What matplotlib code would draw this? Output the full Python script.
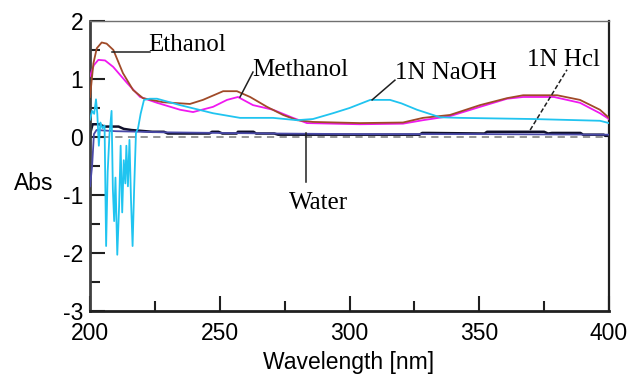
import matplotlib
matplotlib.use("Agg")
import matplotlib.pyplot as plt

plt.rcParams["axes.unicode_minus"] = False

# UV-Vis absorbance spectra in different solvents
ethanol_nm = [200, 201.3, 202.6, 204.5, 206.4, 209, 212.7, 216.6, 220.4, 228.1, 238.5, 243.5,
              251.3, 256.6, 261.7, 268.2, 274.4, 279.8, 285.9, 304, 320.6, 328.3, 338.7, 350.3,
              360.7, 366.9, 380, 388.8, 396.5, 400]
ethanol_abs = [0.69, 1.27, 1.53, 1.63, 1.61, 1.50, 1.10, 0.81, 0.67, 0.60, 0.57, 0.64,
               0.79, 0.79, 0.69, 0.52, 0.38, 0.29, 0.26, 0.24, 0.25, 0.33, 0.38, 0.55,
               0.67, 0.72, 0.72, 0.64, 0.47, 0.33]

methanol_nm = [200, 201.5, 203.2, 205.8, 208.9, 214.3, 219.3, 225.8, 234.7, 239.7, 247.4, 252.8,
               257, 262.8, 270.5, 278.2, 283.6, 304, 320.6, 328.3, 338.7, 350.3, 360.7, 366.9,
               378.8, 388.8, 396.5, 400]
methanol_abs = [1.05, 1.24, 1.33, 1.32, 1.21, 0.93, 0.69, 0.59, 0.47, 0.43, 0.52, 0.64,
                0.69, 0.55, 0.47, 0.33, 0.24, 0.22, 0.23, 0.29, 0.36, 0.52, 0.66, 0.69,
                0.69, 0.59, 0.41, 0.31]

naoh_nm = [200.0, 200.8, 201.6, 202.3, 202.8, 203.4, 204.0, 204.8, 205.6, 206.2, 206.8, 207.5,
           208.3, 208.8, 209.3, 209.8, 210.5, 211.2, 211.8, 212.4, 213.0, 213.6, 214.0, 214.6,
           215.2, 215.8, 216.4, 217.0, 217.7, 218.5, 219.5, 220.8, 223, 225.8, 234.7, 247.4,
           257.8, 270.5, 279.8, 285.9, 293.6, 300, 304, 308, 315.6, 320, 326, 334.9, 342.6,
           370.7, 396.5, 400]
naoh_abs = [0.30, 0.45, 0.40, 0.65, 0.40, -0.15, 0.25, 0.15, 0.20, -1.88, -0.60, 0.05,
            0.45, -0.90, -1.45, -0.70, -2.03, -1.20, -0.15, -1.30, -0.40, -0.80, -0.15, -0.85,
            -0.05, -1.10, -1.88, -0.90, 0.07, 0.15, 0.40, 0.64, 0.66, 0.66, 0.55, 0.41,
            0.33, 0.33, 0.29, 0.31, 0.41, 0.50, 0.57, 0.64, 0.64, 0.58, 0.47, 0.34, 0.33,
            0.31, 0.28, 0.24]

hcl_nm = [200, 201, 203.5, 205.5, 211, 213, 216, 224, 228.5, 230, 246, 247, 249.5, 251, 256.5,
          257, 263, 264, 271, 272.5, 327, 328, 330.5, 352, 353, 375, 376.5, 378, 389, 390,
          398, 398.5, 400]
hcl_abs = [0.05, 0.22, 0.22, 0.18, 0.18, 0.14, 0.12, 0.09, 0.09, 0.06, 0.06, 0.09, 0.09, 0.06, 0.06,
           0.09, 0.09, 0.06, 0.06, 0.04, 0.04, 0.07, 0.07, 0.06, 0.09, 0.09, 0.06, 0.07, 0.07, 0.04,
           0.04, 0.02, 0.02]

water_nm = [200, 200.8, 201.5, 202.5, 210, 230, 250, 272, 300, 350, 400]
water_abs = [-0.85, -0.5, 0.05, 0.12, 0.10, 0.08, 0.07, 0.06, 0.05, 0.05, 0.04]

serif = "Liberation Serif"
sans = "Liberation Sans"
lab_size = 18
tick_size = 16.5

fig = plt.figure(figsize=(6.3, 3.76), dpi=100)
ax = fig.add_axes([0.1429, 0.1729, 0.8238, 0.7712])

ax.axhline(0, color="#8c8c8c", lw=1.3, ls=(0, (4, 3)), zorder=1)
ax.plot(hcl_nm, hcl_abs, color="#10102a", lw=1.8, zorder=2)
ax.plot(water_nm, water_abs, color="#4a4aa8", lw=1.3, zorder=3)
ax.plot(methanol_nm, methanol_abs, color="#f018f0", lw=1.3, zorder=4)
ax.plot(ethanol_nm, ethanol_abs, color="#a04a28", lw=1.3, zorder=5)
ax.plot(naoh_nm, naoh_abs, color="#20c4f0", lw=1.3, zorder=6)

# leader lines and curve labels
ax.plot([208.5, 223], [1.47, 1.47], color="#202020", lw=1.1, zorder=7)
ax.text(222.5, 1.59, "Ethanol", family=serif, fontsize=lab_size, ha="left", va="center")

ax.plot([257.8, 262.8], [0.69, 1.12], color="#202020", lw=1.1, zorder=7)
ax.text(262.5, 1.16, "Methanol", family=serif, fontsize=lab_size, ha="left", va="center")

ax.plot([308.7, 317.5], [0.64, 0.98], color="#202020", lw=1.1, zorder=7)
ax.text(317.5, 1.10, "1N NaOH", family=serif, fontsize=lab_size, ha="left", va="center")

ax.plot([369.6, 383.8], [0.12, 1.16], color="#202020", lw=1.1, ls=(0, (3, 1.5)), zorder=7)
ax.text(368.5, 1.33, "1N Hcl", family=serif, fontsize=lab_size, ha="left", va="center")

ax.plot([283.2, 283.2], [0.07, -0.78], color="#202020", lw=1.1, zorder=7)
ax.text(287.9, -1.14, "Water", family=serif, fontsize=lab_size, ha="center", va="center")

ax.set_xlim(200, 400)
ax.set_ylim(-3, 2)
ax.set_xticks([200, 250, 300, 350, 400])
ax.set_xticks([225, 275, 325, 375], minor=True)
ax.set_yticks([-3, -2, -1, 0, 1, 2])
ax.set_yticks([-2.5, -1.5, -0.5, 0.5, 1.5], minor=True)
ax.tick_params(which="both", direction="in", width=1.5, color="#202020")
ax.tick_params(which="major", length=11)
ax.tick_params(which="minor", length=7)
ax.tick_params(axis="x", pad=8)
ax.tick_params(axis="y", pad=5)
for lab in ax.get_xticklabels() + ax.get_yticklabels():
    lab.set_family(sans)
    lab.set_fontsize(tick_size)

ax.spines["top"].set_color("#707070")
ax.spines["top"].set_linewidth(1.0)
ax.spines["left"].set_color("#404040")
ax.spines["left"].set_linewidth(2.0)
ax.spines["bottom"].set_color("#202020")
ax.spines["bottom"].set_linewidth(2.0)
ax.spines["right"].set_color("#202020")
ax.spines["right"].set_linewidth(1.6)

fig.text(0.054, 0.513, "Abs", family=sans, fontsize=tick_size, ha="center", va="center")
fig.text(0.553, 0.037, "Wavelength [nm]", family=sans, fontsize=tick_size, ha="center", va="center")

fig.savefig("out.png", dpi=100)
